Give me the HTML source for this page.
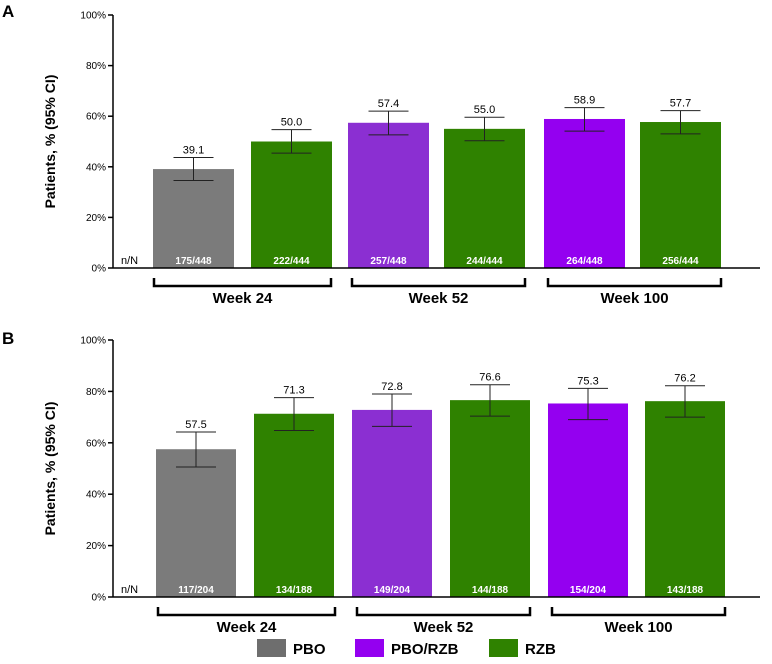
<!DOCTYPE html>
<html><head><meta charset="utf-8">
<style>
body{margin:0;background:#fff;width:772px;height:659px;overflow:hidden}
svg{font-family:"Liberation Sans",Arial,sans-serif}
</style></head>
<body>
<svg id="chart" width="772" height="659" xmlns="http://www.w3.org/2000/svg"></svg>
<script>
const groups = ["Week 24","Week 52","Week 100"];
const seriesA = [39.1,50.0,57.4,55.0,58.9,57.7];
const lowA = [34.6,45.4,52.6,50.3,54.1,53.0];
const highA = [43.7,54.7,62.0,59.6,63.4,62.2];
const nA = ["175/448","222/444","257/448","244/444","264/448","256/444"];
const seriesB = [57.5,71.3,72.8,76.6,75.3,76.2];
const lowB = [50.6,64.8,66.4,70.4,69.0,70.0];
const highB = [64.2,77.6,79.0,82.6,81.2,82.2];
const nB = ["117/204","134/188","149/204","144/188","154/204","143/188"];
const ticks = [0,20,40,60,80,100];
const colors = ["#7b7b7b","#2f8200","#8b2fd2","#2f8200","#9400f0","#2f8200"];

const svg = document.getElementById('chart');
const NS = "http://www.w3.org/2000/svg";
function el(tag, attrs, parent){const e=document.createElementNS(NS,tag);for(const k in attrs)e.setAttribute(k,attrs[k]);(parent||svg).appendChild(e);return e;}

function panel(cfg){
  const g = el('g',{});
  
  
  const y = v => cfg.y0 - v/100*(cfg.y0-cfg.y100);
  const t = el('text',{x:2,y:cfg.ty,'font-size':17,'font-weight':'bold'},g);t.textContent=cfg.id;
  
  
  const yt = el('text',{x:0,y:0,'font-size':14,'font-weight':'bold','text-anchor':'middle',transform:`translate(${cfg.ax-58},${(cfg.y0+cfg.y100)/2}) rotate(-90)`},g);
  yt.textContent='Patients, % (95% CI)';
  
  
  ticks.forEach(v=>{
    el('line',{x1:cfg.ax-5,x2:cfg.ax,y1:y(v),y2:y(v),stroke:'#000','stroke-width':1.5},g);
    const tl=el('text',{x:cfg.ax-7,y:y(v)+3.5,'font-size':10,'text-anchor':'end'},g);tl.textContent=v+'%';
    
    
  });
  el('line',{x1:cfg.ax,x2:cfg.ax,y1:cfg.y100,y2:cfg.y0,stroke:'#000','stroke-width':1.5},g);
  const nn=el('text',{x:cfg.ax+8,y:cfg.y0-4,'font-size':11},g);nn.textContent='n/N';
  
  
  cfg.vals.forEach((v,i)=>{
    const x=cfg.bx[i];
    const r=el('rect',{x:x,y:y(v),width:cfg.bw,height:cfg.y0-y(v),fill:colors[i]},g);
    
    
    const cx=x+cfg.bw/2;
    el('line',{x1:cx,x2:cx,y1:y(cfg.hi[i]),y2:y(cfg.lo[i]),stroke:'#222','stroke-width':1},g);
    el('line',{x1:cx-20,x2:cx+20,y1:y(cfg.hi[i]),y2:y(cfg.hi[i]),stroke:'#222'},g);
    el('line',{x1:cx-20,x2:cx+20,y1:y(cfg.lo[i]),y2:y(cfg.lo[i]),stroke:'#222'},g);
    const vl=el('text',{x:cx,y:y(cfg.hi[i])-4,'font-size':11,'text-anchor':'middle'},g);vl.textContent=v.toFixed(1);
    
    
    const nl=el('text',{x:cx,y:cfg.y0-4,'font-size':10,'font-weight':'bold',fill:'#fff','text-anchor':'middle'},g);nl.textContent=cfg.n[i];
    
    
  });
  el('line',{x1:cfg.ax,x2:760,y1:cfg.y0,y2:cfg.y0,stroke:'#000','stroke-width':1.5},g);
  groups.forEach((gname,k)=>{
    const x1=cfg.brk[k][0],x2=cfg.brk[k][1],by=cfg.y0+18;
    el('path',{d:`M${x1},${by-8}V${by}H${x2}V${by-8}`,fill:'none',stroke:'#000','stroke-width':2.5},g);
    const gl=el('text',{x:(x1+x2)/2,y:by+17,'font-size':15,'font-weight':'bold','text-anchor':'middle'},g);gl.textContent=gname;
    
    
  });
}
panel({id:'A',ty:17,ax:113,y0:268,y100:15,bw:81,bx:[153,251,348,444,544,640],vals:seriesA,lo:lowA,hi:highA,n:nA,brk:[[154,331],[352,525],[548,721]]});
panel({id:'B',ty:344,ax:113,y0:597,y100:340,bw:80,bx:[156,254,352,450,548,645],vals:seriesB,lo:lowB,hi:highB,n:nB,brk:[[158,335],[357,530],[552,725]]});

const legend=[["PBO","#6e6e6e",257],["PBO/RZB","#9400f0",355],["RZB","#2f8200",489]];
legend.forEach(([lab,c,x])=>{
  const g=el('g',{});
  
  
  el('rect',{x:x,y:639,width:29,height:18,fill:c},g);
  const t=el('text',{x:x+36,y:654,'font-size':15,'font-weight':'bold'},g);t.textContent=lab;
});
</script>
</body></html>
